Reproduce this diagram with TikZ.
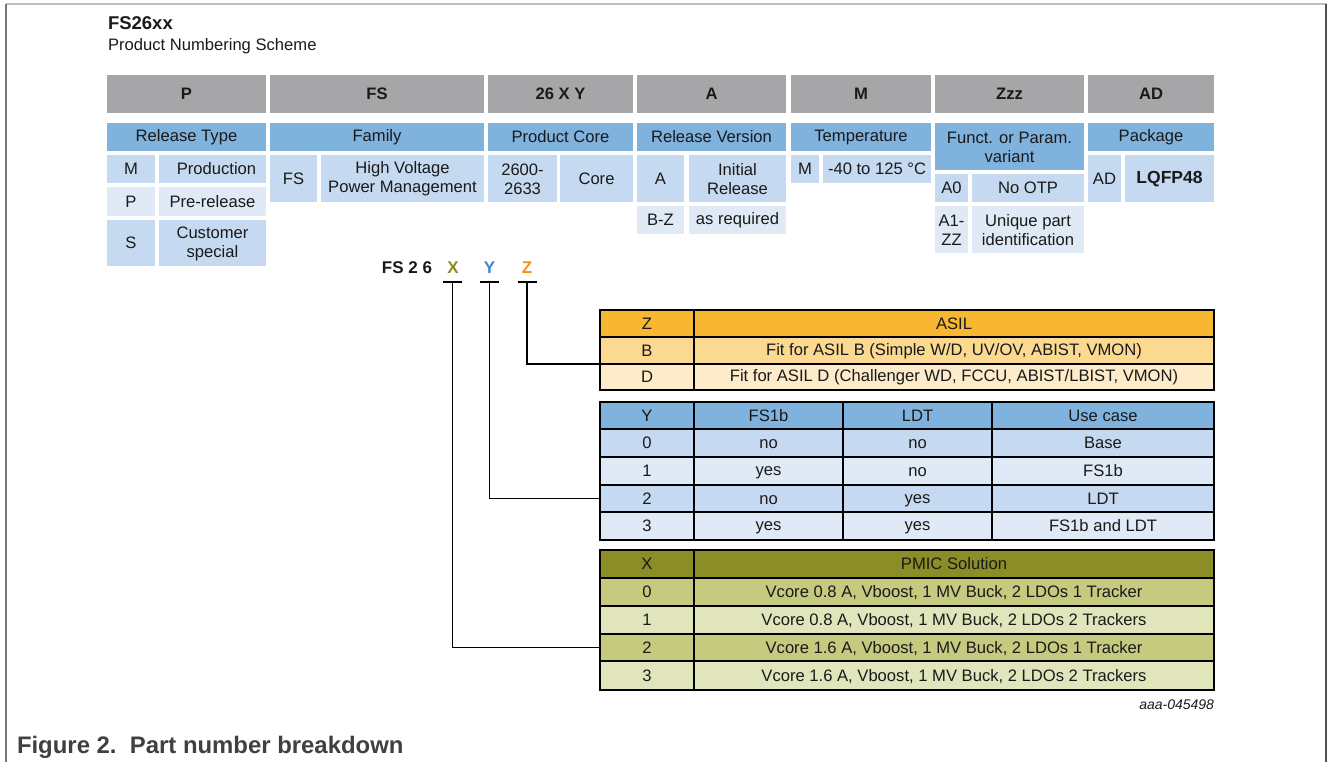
\documentclass[tikz,border=0pt]{standalone}
\usepackage{fontspec}
\setmainfont{Liberation Sans}
\definecolor{hgray}{HTML}{A6A6A8}
\definecolor{hblue}{HTML}{80B2DE}
\definecolor{dblue}{HTML}{C5DAF0}
\definecolor{lblue}{HTML}{DFEAF6}
\definecolor{orH}{HTML}{F7B731}
\definecolor{orB}{HTML}{FCD990}
\definecolor{orD}{HTML}{FDEBC9}
\definecolor{olH}{HTML}{8B8E26}
\definecolor{olA}{HTML}{C5CA7E}
\definecolor{olB}{HTML}{E1E5BC}
\definecolor{xcol}{HTML}{8C8C1E}
\definecolor{ycol}{HTML}{3D87D4}
\definecolor{zcol}{HTML}{F5901E}
\definecolor{txt}{HTML}{1A1A1A}
\newcommand\mystrut{\vrule width0pt height 13.2pt depth 1.8pt\relax}
\newcommand\cell[7][]{\node[cellbox,#1,fill=#6,minimum width={#4-#2},minimum height={#5-#3}] (c#2x#3) at ({(#2+#4)/2},{(#3+#5)/2}) {\mystrut#7};}
\newcommand\tcell[8][]{\node[tabbox,#1,fill=#7,minimum width={#4-#2},minimum height={#5-#3}] (#6) at ({(#2+#4)/2},{(#3+#5)/2}) {\mystrut#8};}
\begin{document}
\begin{tikzpicture}[x=1pt,y=-1pt,
  cellbox/.style={rectangle,inner sep=0pt,outer sep=0pt,align=center,text=txt,font=\fontsize{16.6}{19}\selectfont},
  tabbox/.style={rectangle,inner sep=0pt,outer sep=0pt,align=center,text=txt,draw=black,line width=2pt,font=\fontsize{16.6}{19}\selectfont},
  hd/.style={font=\fontsize{16.6}{19}\selectfont\bfseries},
  tickbar/.style={line width=2pt,black},
  conn/.style={line width=1.6pt,black},
  plain/.style={inner sep=0pt,outer sep=0pt,text=txt}]
\useasboundingbox (0,0) rectangle (1328,762);
% frame
\draw[line width=2pt,color={rgb,255:red,190;green,190;blue,190}] (6,4) -- (1327,4);
\draw[line width=1.5pt,color={rgb,255:red,120;green,120;blue,120}] (6,4) -- (6,762);
\draw[line width=2pt,color={rgb,255:red,80;green,80;blue,80}] (1326,4) -- (1326,762);
% titles
\node[plain,anchor=base west,font=\fontsize{18.5}{21}\selectfont\bfseries] (title) at (108,30) {FS26xx};
\node[plain,anchor=base west,font=\fontsize{16.6}{19}\selectfont] (subtitle) at (108,50.5) {Product Numbering Scheme};
% gray header row
\cell[hd]{107}{75}{266}{113}{hgray}{P}
\cell[hd]{270}{75}{484}{113}{hgray}{FS}
\cell[hd]{488}{75}{633}{113}{hgray}{26 X Y}
\cell[hd]{637}{75}{786}{113}{hgray}{A}
\cell[hd]{791}{75}{931}{113}{hgray}{M}
\cell[hd]{935}{75}{1084}{113}{hgray}{Zzz}
\cell[hd]{1088}{75}{1214}{113}{hgray}{AD}
% blue header row
\cell{107}{123}{266}{151}{hblue}{Release Type}
\cell{270}{123}{484}{151}{hblue}{Family}
\cell{488}{123}{633}{151}{hblue}{Product Core}
\cell{637}{123}{786}{151}{hblue}{Release Version}
\cell{791}{123}{931}{151}{hblue}{Temperature}
\cell{935}{123}{1084}{170}{hblue}{Funct. or Param.\\variant}
\cell{1088}{123}{1214}{151}{hblue}{Package}
% release type
\cell{107}{155}{155}{183}{dblue}{M}
\cell{159}{155}{266}{183}{dblue}{\hspace*{8pt}Production}
\cell{107}{187}{155}{216}{lblue}{P}
\cell{159}{187}{266}{216}{lblue}{Pre-release}
\cell{107}{220}{155}{266}{dblue}{S}
\cell{159}{220}{266}{266}{dblue}{Customer\\special}
% family
\cell{270}{155}{317}{202}{dblue}{FS}
\cell{321}{155}{484}{202}{dblue}{High Voltage\\Power Management}
% product core
\cell{488}{155}{557}{202}{dblue}{2600-\\2633}
\cell{560}{155}{633}{202}{dblue}{Core}
% release version
\cell{637}{155}{684}{202}{dblue}{A}
\cell{689}{155}{786}{202}{dblue}{Initial\\Release}
\cell{637}{206}{684}{234}{lblue}{B-Z}
\cell{689}{206}{786}{234}{lblue}{as required}
% temperature
\cell{791}{155}{819}{183}{dblue}{M}
\cell{823}{155}{931}{183}{dblue}{-40 to 125 °C}
% Zzz
\cell{935}{174}{968}{202}{dblue}{A0}
\cell{972}{174}{1084}{202}{dblue}{No OTP}
\cell{935}{206}{968}{253}{lblue}{A1-\\ZZ}
\cell{972}{206}{1084}{253}{lblue}{Unique part\\identification}
% package
\cell{1088}{155}{1121}{202}{dblue}{AD}
\cell[font=\fontsize{17.5}{20}\selectfont\bfseries]{1125}{155}{1214}{202}{dblue}{LQFP48}
% part number label
\node[plain,anchor=base east,font=\fontsize{17}{19}\selectfont\bfseries] (fs26) at (432,273) {FS 2 6};
\node[plain,anchor=base,text=xcol,font=\fontsize{17}{19}\selectfont\bfseries] (lx) at (453,273) {X};
\node[plain,anchor=base,text=ycol,font=\fontsize{17}{19}\selectfont\bfseries] (ly) at (489.5,273) {Y};
\node[plain,anchor=base,text=zcol,font=\fontsize{17}{19}\selectfont\bfseries] (lz) at (527,273) {Z};
\coordinate (xt) at (452.5,282);
\coordinate (yt) at (489.5,282);
\coordinate (zt) at (527,282);
\draw[tickbar] ([xshift=-9.5pt]xt) -- ([xshift=9.5pt]xt);
\draw[tickbar] ([xshift=-9.5pt]yt) -- ([xshift=9.5pt]yt);
\draw[tickbar] ([xshift=-9.5pt]zt) -- ([xshift=9.5pt]zt);
% Z table
\tcell{600}{310}{694}{337}{zh1}{orH}{Z}
\tcell{694}{310}{1214}{337}{zh2}{orH}{ASIL}
\tcell{600}{337}{694}{364}{zb1}{orB}{B}
\tcell{694}{337}{1214}{364}{zb2}{orB}{Fit for ASIL B (Simple W/D, UV/OV, ABIST, VMON)}
\tcell{600}{364}{694}{390}{zd1}{orD}{D}
\tcell{694}{364}{1214}{390}{zd2}{orD}{Fit for ASIL D (Challenger WD, FCCU, ABIST/LBIST, VMON)}
% Y table
\tcell{600}{402}{694}{429}{yh1}{hblue}{Y}
\tcell{694}{402}{843}{429}{yh2}{hblue}{FS1b}
\tcell{843}{402}{992}{429}{yh3}{hblue}{LDT}
\tcell{992}{402}{1214}{429}{yh4}{hblue}{Use case}
\tcell{600}{429}{694}{457}{y01}{dblue}{0}
\tcell{694}{429}{843}{457}{y02}{dblue}{no}
\tcell{843}{429}{992}{457}{y03}{dblue}{no}
\tcell{992}{429}{1214}{457}{y04}{dblue}{Base}
\tcell{600}{457}{694}{485}{y11}{lblue}{1}
\tcell{694}{457}{843}{485}{y12}{lblue}{yes}
\tcell{843}{457}{992}{485}{y13}{lblue}{no}
\tcell{992}{457}{1214}{485}{y14}{lblue}{FS1b}
\tcell{600}{485}{694}{512}{y21}{dblue}{2}
\tcell{694}{485}{843}{512}{y22}{dblue}{no}
\tcell{843}{485}{992}{512}{y23}{dblue}{yes}
\tcell{992}{485}{1214}{512}{y24}{dblue}{LDT}
\tcell{600}{512}{694}{540}{y31}{lblue}{3}
\tcell{694}{512}{843}{540}{y32}{lblue}{yes}
\tcell{843}{512}{992}{540}{y33}{lblue}{yes}
\tcell{992}{512}{1214}{540}{y34}{lblue}{FS1b and LDT}
% X table
\tcell{600}{550}{694}{578}{xh1}{olH}{X}
\tcell{694}{550}{1214}{578}{xh2}{olH}{PMIC Solution}
\tcell{600}{578}{694}{606}{x01}{olA}{0}
\tcell{694}{578}{1214}{606}{x02}{olA}{Vcore 0.8 A, Vboost, 1 MV Buck, 2 LDOs 1 Tracker}
\tcell{600}{606}{694}{634}{x11}{olB}{1}
\tcell{694}{606}{1214}{634}{x12}{olB}{Vcore 0.8 A, Vboost, 1 MV Buck, 2 LDOs 2 Trackers}
\tcell{600}{634}{694}{661}{x21}{olA}{2}
\tcell{694}{634}{1214}{661}{x22}{olA}{Vcore 1.6 A, Vboost, 1 MV Buck, 2 LDOs 1 Tracker}
\tcell{600}{661}{694}{690}{x31}{olB}{3}
\tcell{694}{661}{1214}{690}{x32}{olB}{Vcore 1.6 A, Vboost, 1 MV Buck, 2 LDOs 2 Trackers}
% connectors
\draw[conn] (zt) |- (zb1.south west);
\draw[conn] (yt) |- (y21.west);
\draw[conn] (xt) |- (x21.west);
% labels
\node[plain,anchor=base east,font=\fontsize{14}{16}\selectfont\itshape] (code) at (1214,709) {aaa-045498};
\node[plain,anchor=base west,text={rgb,255:red,64;green,64;blue,64},font=\fontsize{23.9}{27}\selectfont\bfseries] (fig) at (17,753) {Figure 2.\ \ Part number breakdown};
\end{tikzpicture}
\end{document}
